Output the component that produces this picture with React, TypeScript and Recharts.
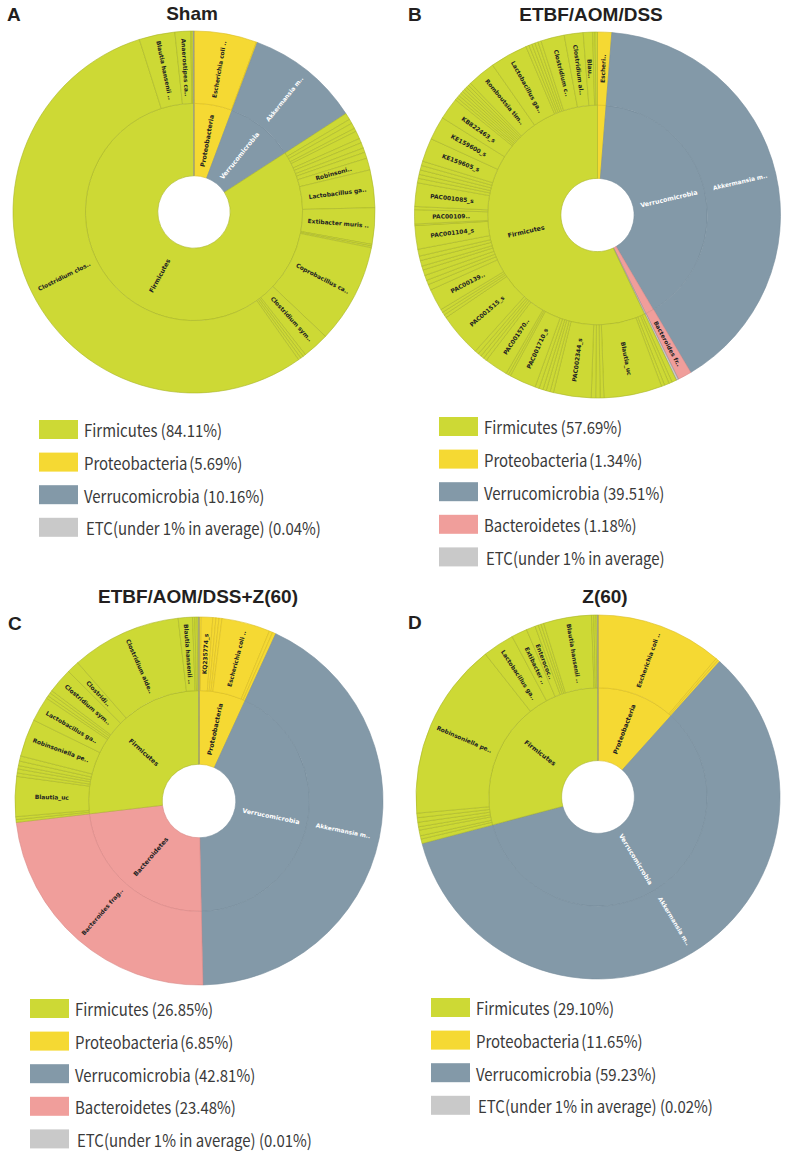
import React from 'react';
import { PieChart, Pie, Cell } from 'recharts';

// ---------- colours ----------
const FILL: Record<string, string> = {
  Firmicutes: '#cdd935',
  Proteobacteria: '#f5d933',
  Verrucomicrobia: '#8399a8',
  Bacteroidetes: '#f09e9b',
  ETC: '#c9c9c9',
};
const STROKE: Record<string, string> = {
  Firmicutes: '#a9b628',
  Proteobacteria: '#d8bc22',
  Verrucomicrobia: '#778d9c',
  Bacteroidetes: '#d98886',
  ETC: '#8f8f8f',
};

// ---------- data: phylum ring [phylum, value, label] ----------
const shamPhyla: [string, number, string][] = [
  ['Proteobacteria', 5.69, 'Proteobacteria'],
  ['Verrucomicrobia', 10.16, 'Verrucomicrobia'],
  ['Firmicutes', 84.11, 'Firmicutes'],
  ['ETC', 0.04, ''],
];
// species ring [label, phylum, value]
const shamSpecies: [string, string, number][] = [
  ['Escherichia coli ..', 'Proteobacteria', 5.6],
  ['', 'Proteobacteria', 0.09],
  ['Akkermansia m..', 'Verrucomicrobia', 10.16],
  ['', 'Firmicutes', 0.6],
  ['', 'Firmicutes', 0.4],
  ['', 'Firmicutes', 0.5],
  ['', 'Firmicutes', 0.3],
  ['', 'Firmicutes', 0.7],
  ['', 'Firmicutes', 0.4],
  ['', 'Firmicutes', 0.5],
  ['', 'Firmicutes', 0.4],
  ['', 'Firmicutes', 0.55],
  ['Robinsoni..', 'Firmicutes', 1.06],
  ['Lactobacillus ga..', 'Firmicutes', 3.36],
  ['Extibacter muris ..', 'Firmicutes', 3.25],
  ['', 'Firmicutes', 0.15],
  ['', 'Firmicutes', 0.15],
  ['Coprobacillus ca..', 'Firmicutes', 8.89],
  ['Clostridium sym..', 'Firmicutes', 2.39],
  ['', 'Firmicutes', 0.25],
  ['', 'Firmicutes', 0.25],
  ['', 'Firmicutes', 0.25],
  ['Clostridium clos..', 'Firmicutes', 54.92],
  ['Blautia hansenii ..', 'Firmicutes', 3.19],
  ['Anaerostipes ca..', 'Firmicutes', 1.4],
  ['', 'Firmicutes', 0.12],
  ['', 'Firmicutes', 0.13],
  ['', 'ETC', 0.04],
];

const etbfPhyla: [string, number, string][] = [
  ['Proteobacteria', 1.25, ''],
  ['Verrucomicrobia', 40.3, 'Verrucomicrobia'],
  ['Bacteroidetes', 1.22, ''],
  ['ETC', 0.2, ''],
  ['Firmicutes', 57.08, 'Firmicutes'],
];
const etbfSpecies: [string, string, number][] = [
  ['Escheri..', 'Proteobacteria', 1.25],
  ['Akkermansia m..', 'Verrucomicrobia', 40.3],
  ['Bacteroides fr..', 'Bacteroidetes', 1.22],
  ['', 'ETC', 0.2],
  ['', 'Firmicutes', 0.42],
  ['', 'Firmicutes', 0.28],
  ['', 'Firmicutes', 0.42],
  ['', 'Firmicutes', 0.28],
  ['Blautia_uc', 'Firmicutes', 5.14],
  ['', 'Firmicutes', 0.33],
  ['', 'Firmicutes', 0.39],
  ['', 'Firmicutes', 0.39],
  ['PAC002344_s', 'Firmicutes', 3.33],
  ['', 'Firmicutes', 0.3],
  ['', 'Firmicutes', 0.35],
  ['', 'Firmicutes', 0.3],
  ['', 'Firmicutes', 0.35],
  ['', 'Firmicutes', 0.37],
  ['PAC001710_s', 'Firmicutes', 2.36],
  ['', 'Firmicutes', 0.2],
  ['', 'Firmicutes', 0.22],
  ['PAC001570..', 'Firmicutes', 2.08],
  ['', 'Firmicutes', 0.3],
  ['', 'Firmicutes', 0.3],
  ['', 'Firmicutes', 0.3],
  ['', 'Firmicutes', 0.35],
  ['PAC001515_s', 'Firmicutes', 3.89],
  ['', 'Firmicutes', 0.28],
  ['', 'Firmicutes', 0.27],
  ['', 'Firmicutes', 0.28],
  ['PAC00139..', 'Firmicutes', 1.94],
  ['', 'Firmicutes', 0.5],
  ['', 'Firmicutes', 0.4],
  ['', 'Firmicutes', 0.45],
  ['', 'Firmicutes', 0.5],
  ['', 'Firmicutes', 0.35],
  ['', 'Firmicutes', 0.5],
  ['', 'Firmicutes', 0.4],
  ['', 'Firmicutes', 0.61],
  ['PAC001104_s', 'Firmicutes', 2.08],
  ['', 'Firmicutes', 0.14],
  ['PAC00109..', 'Firmicutes', 1.25],
  ['', 'Firmicutes', 0.28],
  ['PAC001085_s', 'Firmicutes', 2.08],
  ['', 'Firmicutes', 0.4],
  ['', 'Firmicutes', 0.35],
  ['', 'Firmicutes', 0.4],
  ['', 'Firmicutes', 0.4],
  ['', 'Firmicutes', 0.39],
  ['KE159605_s', 'Firmicutes', 2.08],
  ['KE159600_s', 'Firmicutes', 2.08],
  ['KB822463_s', 'Firmicutes', 1.94],
  ['', 'Firmicutes', 0.24],
  ['', 'Firmicutes', 0.24],
  ['', 'Firmicutes', 0.24],
  ['', 'Firmicutes', 0.24],
  ['', 'Firmicutes', 0.24],
  ['', 'Firmicutes', 0.24],
  ['', 'Firmicutes', 0.25],
  ['', 'Firmicutes', 0.25],
  ['Romboutsia tim..', 'Firmicutes', 2.5],
  ['Lactobacillus ga..', 'Firmicutes', 3.33],
  ['', 'Firmicutes', 0.28],
  ['', 'Firmicutes', 0.28],
  ['', 'Firmicutes', 0.28],
  ['', 'Firmicutes', 0.28],
  ['', 'Firmicutes', 0.28],
  ['Clostridium c..', 'Firmicutes', 2.08],
  ['Clostridium al..', 'Firmicutes', 1.67],
  ['Blau..', 'Firmicutes', 0.83],
  ['', 'Firmicutes', 0.2],
  ['', 'Firmicutes', 0.22],
];

const zetbfPhyla: [string, number, string][] = [
  ['Proteobacteria', 6.85, 'Proteobacteria'],
  ['Verrucomicrobia', 42.81, 'Verrucomicrobia'],
  ['Bacteroidetes', 23.48, 'Bacteroidetes'],
  ['Firmicutes', 26.85, 'Firmicutes'],
  ['ETC', 0.01, ''],
];
const zetbfSpecies: [string, string, number][] = [
  ['', 'Proteobacteria', 0.2],
  ['KQ235774_s', 'Proteobacteria', 1.0],
  ['', 'Proteobacteria', 0.27],
  ['', 'Proteobacteria', 0.27],
  ['', 'Proteobacteria', 0.26],
  ['Escherichia coli ..', 'Proteobacteria', 4.25],
  ['', 'Proteobacteria', 0.3],
  ['', 'Proteobacteria', 0.3],
  ['Akkermansia m..', 'Verrucomicrobia', 42.81],
  ['Bacteroides frag..', 'Bacteroidetes', 23.48],
  ['', 'Firmicutes', 0.25],
  ['', 'Firmicutes', 0.25],
  ['Blautia_uc', 'Firmicutes', 3.5],
  ['', 'Firmicutes', 0.3],
  ['', 'Firmicutes', 0.35],
  ['', 'Firmicutes', 0.3],
  ['', 'Firmicutes', 0.4],
  ['', 'Firmicutes', 0.45],
  ['Robinsoniella pe..', 'Firmicutes', 3.3],
  ['Lactobacillus ga..', 'Firmicutes', 2.2],
  ['', 'Firmicutes', 0.25],
  ['', 'Firmicutes', 0.3],
  ['', 'Firmicutes', 0.25],
  ['Clostridium sym..', 'Firmicutes', 2.2],
  ['Clostridi..', 'Firmicutes', 1.1],
  ['Clostridium alde..', 'Firmicutes', 9.65],
  ['Blautia hansenii ..', 'Firmicutes', 1.25],
  ['', 'Firmicutes', 0.2],
  ['', 'Firmicutes', 0.2],
  ['', 'Firmicutes', 0.15],
  ['', 'ETC', 0.01],
];

const z60Phyla: [string, number, string][] = [
  ['Proteobacteria', 11.65, 'Proteobacteria'],
  ['Verrucomicrobia', 59.23, 'Verrucomicrobia'],
  ['Firmicutes', 29.1, 'Firmicutes'],
  ['ETC', 0.02, ''],
];
const z60Species: [string, string, number][] = [
  ['Escherichia coli ..', 'Proteobacteria', 11.25],
  ['', 'Proteobacteria', 0.2],
  ['', 'Proteobacteria', 0.2],
  ['Akkermansia m..', 'Verrucomicrobia', 59.23],
  ['', 'Firmicutes', 0.4],
  ['', 'Firmicutes', 0.3],
  ['', 'Firmicutes', 0.5],
  ['', 'Firmicutes', 0.3],
  ['', 'Firmicutes', 0.4],
  ['', 'Firmicutes', 0.4],
  ['', 'Firmicutes', 0.4],
  ['Robinsoniella pe..', 'Firmicutes', 15.8],
  ['Lactobacillus ga..', 'Firmicutes', 2.8],
  ['Extibacter ..', 'Firmicutes', 1.4],
  ['Enterococ..', 'Firmicutes', 0.8],
  ['', 'Firmicutes', 0.3],
  ['', 'Firmicutes', 0.25],
  ['', 'Firmicutes', 0.25],
  ['Blautia hansenii ..', 'Firmicutes', 4.25],
  ['', 'Firmicutes', 0.2],
  ['', 'Firmicutes', 0.2],
  ['', 'Firmicutes', 0.15],
  ['', 'ETC', 0.02],
];

// ---------- legends [phylum, name, value text] ----------
const shamLegend: [string, string, string][] = [
  ['Firmicutes', 'Firmicutes ', '(84.11%)'],
  ['Proteobacteria', 'Proteobacteria', '(5.69%)'],
  ['Verrucomicrobia', 'Verrucomicrobia ', '(10.16%)'],
  ['ETC', 'ETC(under 1% in average) ', '(0.04%)'],
];
const etbfLegend: [string, string, string][] = [
  ['Firmicutes', 'Firmicutes ', '(57.69%)'],
  ['Proteobacteria', 'Proteobacteria', '(1.34%)'],
  ['Verrucomicrobia', 'Verrucomicrobia ', '(39.51%)'],
  ['Bacteroidetes', 'Bacteroidetes ', '(1.18%)'],
  ['ETC', 'ETC(under 1% in average)', ''],
];
const zetbfLegend: [string, string, string][] = [
  ['Firmicutes', 'Firmicutes ', '(26.85%)'],
  ['Proteobacteria', 'Proteobacteria', '(6.85%)'],
  ['Verrucomicrobia', 'Verrucomicrobia ', '(42.81%)'],
  ['Bacteroidetes', 'Bacteroidetes ', '(23.48%)'],
  ['ETC', 'ETC(under 1% in average) ', '(0.01%)'],
];
const z60Legend: [string, string, string][] = [
  ['Firmicutes', 'Firmicutes ', '(29.10%)'],
  ['Proteobacteria', 'Proteobacteria', '(11.65%)'],
  ['Verrucomicrobia', 'Verrucomicrobia ', '(59.23%)'],
  ['ETC', 'ETC(under 1% in average) ', '(0.02%)'],
];

const titles = ['Sham', 'ETBF/AOM/DSS', 'ETBF/AOM/DSS+Z(60)', 'Z(60)'];
const letters = ['A', 'B', 'C', 'D'];

// ---------- layout ----------
const PANELS = [
  { phyla: shamPhyla, species: shamSpecies, legend: shamLegend, cx: 194, cy: 212, r: 181, tx: 192, ty: 20, lx: 7, ly: 21, gx: 39, gy: 420 },
  { phyla: etbfPhyla, species: etbfSpecies, legend: etbfLegend, cx: 597.5, cy: 215, r: 183, tx: 591, ty: 21, lx: 408, ly: 21, gx: 439, gy: 417 },
  { phyla: zetbfPhyla, species: zetbfSpecies, legend: zetbfLegend, cx: 199, cy: 801, r: 184, tx: 198, ty: 603, lx: 8, ly: 630, gx: 30, gy: 999 },
  { phyla: z60Phyla, species: z60Species, legend: z60Legend, cx: 598, cy: 797, r: 182, tx: 605, ty: 603, lx: 408, ly: 629, gx: 431, gy: 998 },
];

const W = 787;
const H = 1151;
const RAD = Math.PI / 180;
const TITLE_FONT = "'Liberation Sans', Arial, sans-serif";
const LEGEND_FONT = "'Noto Sans CJK KR', 'Noto Sans', sans-serif";

const makeLabel = (fontSize: number) => (props: any) => {
  const { cx, cy, midAngle, innerRadius, outerRadius } = props;
  const p = props.payload && props.payload.tag !== undefined ? props.payload : props;
  const text = p.tag;
  if (!text) return null;
  const r = (innerRadius + outerRadius) / 2;
  const x = cx + r * Math.cos(-midAngle * RAD);
  const y = cy + r * Math.sin(-midAngle * RAD);
  const right = Math.cos(midAngle * RAD) >= 0;
  const rot = right ? -midAngle : 180 - midAngle;
  const fill = p.phylum === 'Verrucomicrobia' ? '#ffffff' : '#222222';
  return (
    <text
      key={`${text}-${props.index}`}
      x={x}
      y={y}
      transform={`rotate(${rot} ${x} ${y})`}
      textAnchor="middle"
      dominantBaseline="central"
      fontSize={fontSize}
      fontWeight="bold"
      fontFamily="'DejaVu Sans', sans-serif"
      fill={fill}
    >
      {text}
    </text>
  );
};

const innerLabel = makeLabel(6.3);
const outerLabel = makeLabel(5.9);

export default function App() {
  return (
    <div style={{ position: 'absolute', left: 0, top: 0, width: W, height: H, background: '#fff' }}>
      <style>{'body{margin:0;background:#fff;}'}</style>
      <PieChart width={W} height={H} margin={{ top: 0, right: 0, bottom: 0, left: 0 }}>
        {PANELS.map((pn, i) => {
          const inner = pn.phyla.map(([phylum, value, tag]) => ({ name: phylum, phylum, value, tag }));
          const outer = pn.species.map(([tag, phylum, value], k) => ({ name: `${phylum}-${k}`, phylum, value, tag }));
          return [
            <Pie
              key={`in-${i}`}
              data={inner}
              dataKey="value"
              nameKey="name"
              cx={pn.cx}
              cy={pn.cy}
              innerRadius={pn.r * 0.2}
              outerRadius={pn.r * 0.6}
              startAngle={90}
              endAngle={-270}
              paddingAngle={0}
              isAnimationActive={false}
              label={innerLabel}
              labelLine={false}
            >
              {inner.map((d, k) => (
                <Cell key={k} fill={FILL[d.phylum]} stroke={STROKE[d.phylum]} strokeWidth={0.6} />
              ))}
            </Pie>,
            <Pie
              key={`out-${i}`}
              data={outer}
              dataKey="value"
              nameKey="name"
              cx={pn.cx}
              cy={pn.cy}
              innerRadius={pn.r * 0.6}
              outerRadius={pn.r}
              startAngle={90}
              endAngle={-270}
              paddingAngle={0}
              isAnimationActive={false}
              label={outerLabel}
              labelLine={false}
            >
              {outer.map((d, k) => (
                <Cell key={k} fill={FILL[d.phylum]} stroke={STROKE[d.phylum]} strokeWidth={0.6} />
              ))}
            </Pie>,
          ];
        })}
      </PieChart>
      <svg width={W} height={H} style={{ position: 'absolute', left: 0, top: 0, pointerEvents: 'none' }}>
        {PANELS.map((pn, i) => (
          <g key={i}>
            <text x={pn.tx} y={pn.ty} textAnchor="middle" fontSize={19} fontWeight="bold" fontFamily={TITLE_FONT} fill="#231f20">
              {titles[i]}
            </text>
            <text x={pn.lx} y={pn.ly} fontSize={19} fontWeight="bold" fontFamily={TITLE_FONT} fill="#231f20">
              {letters[i]}
            </text>
            {pn.legend.map(([phylum, name, pct], k) => {
              const y = pn.gy + k * 32.6;
              const tx = pn.gx + 45 + (phylum === 'ETC' ? 2 : 0);
              return (
                <g key={k}>
                  <rect x={pn.gx} y={y} width={39} height={19} fill={FILL[phylum]} />
                  <g transform={`translate(${tx} ${y + 10}) scale(0.88 1)`}>
                    <text x={0} y={0} dominantBaseline="central" fontSize={17} fontFamily={LEGEND_FONT} fill="#3a3a3a">
                      {name}
                      {pct ? <tspan dx={phylum === 'Proteobacteria' ? 2 : 0}>{pct}</tspan> : null}
                    </text>
                  </g>
                </g>
              );
            })}
          </g>
        ))}
      </svg>
    </div>
  );
}
